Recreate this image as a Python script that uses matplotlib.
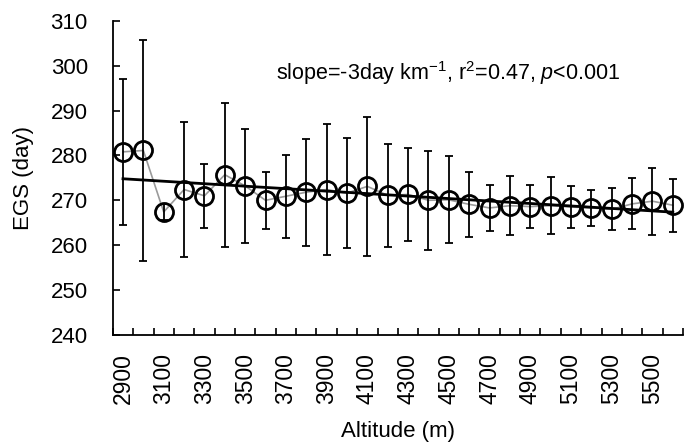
import numpy as np
import matplotlib
matplotlib.use("Agg")
import matplotlib.pyplot as plt
from matplotlib.ticker import FixedLocator

plt.rcParams['font.family'] = ['Liberation Sans', 'DejaVu Sans']
plt.rcParams['mathtext.fontset'] = 'custom'
plt.rcParams['mathtext.rm'] = 'Liberation Sans'
plt.rcParams['mathtext.it'] = 'Liberation Sans:italic'

# data
altitude = [2900, 3000, 3100, 3200, 3300, 3400, 3500, 3600, 3700, 3800,
            3900, 4000, 4100, 4200, 4300, 4400, 4500, 4600, 4700, 4800,
            4900, 5000, 5100, 5200, 5300, 5400, 5500, 5600]
egs = [280.8, 281.1, 267.4, 272.4, 271.0, 275.7, 273.2, 270.0, 270.9, 271.8,
       272.4, 271.6, 273.1, 271.1, 271.3, 270.0, 270.1, 269.1, 268.3, 268.8,
       268.6, 268.8, 268.5, 268.3, 268.0, 269.2, 269.8, 268.9]
err = [16.3, 24.7, 1.8, 15.0, 7.2, 16.0, 12.8, 6.4, 9.2, 11.9,
       14.7, 12.3, 15.5, 11.5, 10.4, 11.0, 9.7, 7.3, 5.1, 6.6,
       4.8, 6.3, 4.6, 4.1, 4.7, 5.7, 7.5, 5.9]

x = np.arange(len(altitude))

fig = plt.figure(figsize=(6.92, 4.43), dpi=100)
ax = fig.add_axes([0.163, 0.244, 0.824, 0.709])

# linear trend
coef = np.polyfit(np.array(altitude) / 1000.0, egs, 1)
trend = np.polyval(coef, np.array(altitude) / 1000.0)

ax.plot(x, egs, color="#9a9a9a", lw=1.2, zorder=1)
ax.errorbar(x, egs, yerr=err, fmt="none", ecolor="black", elinewidth=1.3,
            capsize=3, capthick=1.3, zorder=2)
ax.plot(x, trend, color="black", lw=2.0, zorder=3)
ax.plot(x, egs, "o", ms=13, mfc="none", mec="black", mew=2.0, zorder=4)

ax.set_xlim(-0.5, len(altitude) - 0.5)
ax.set_ylim(240, 310)
ax.set_yticks(np.arange(240, 311, 10))

ax.set_xticks(x[::2])
ax.set_xticklabels([str(a) for a in altitude[::2]], rotation=90)
ax.xaxis.set_minor_locator(FixedLocator(np.arange(-0.5, len(altitude), 1)))
ax.tick_params(axis="x", which="major", length=0, pad=13, labelsize=16.5)
ax.tick_params(axis="x", which="minor", direction="in", length=5, width=1.2)
ax.tick_params(axis="y", direction="in", length=5, width=1.2, labelsize=16, pad=18)

for s in ["top", "right"]:
    ax.spines[s].set_visible(False)
for s in ["left", "bottom"]:
    ax.spines[s].set_linewidth(1.3)

ax.set_xlabel("Altitude (m)", fontsize=16, labelpad=12)
ax.set_ylabel("EGS (day)", fontsize=16, labelpad=12)

ax.text(0.287, 0.834, "slope=-3day km$^{-1}$, r$^{2}$=0.47, $p$<0.001",
        transform=ax.transAxes, fontsize=15.5, va="center")

fig.savefig("out.png", dpi=100)
